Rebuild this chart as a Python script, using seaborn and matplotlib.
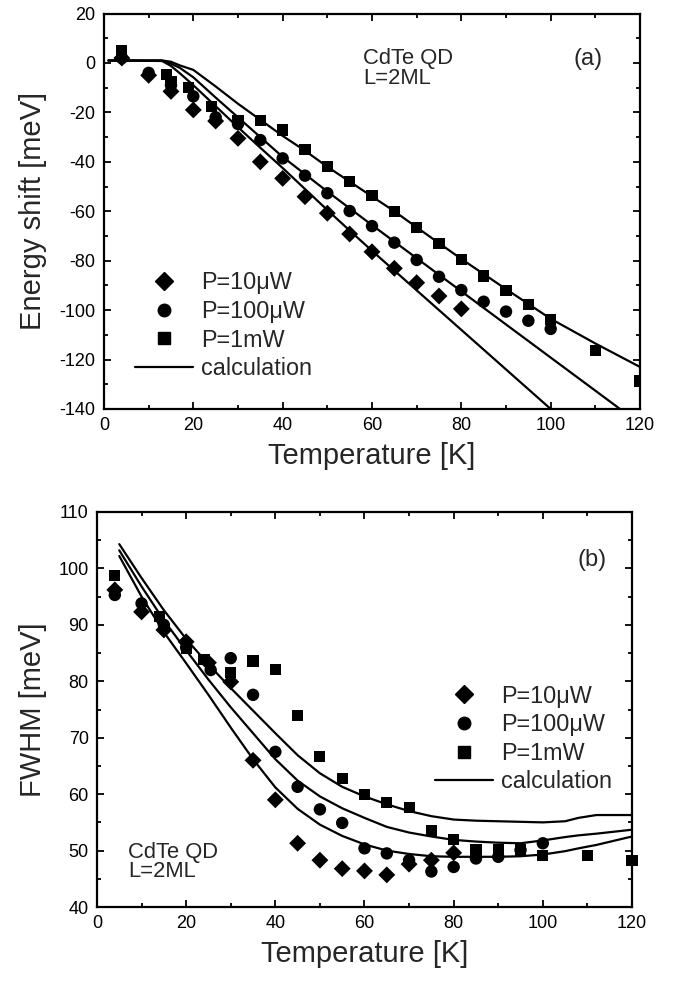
import numpy as np
import pandas as pd
import matplotlib
matplotlib.use("Agg")
import matplotlib.pyplot as plt
import seaborn as sns
from matplotlib.lines import Line2D
from matplotlib.ticker import MultipleLocator

# ---------------- Panel (a): energy shift ----------------
T_a_10uW = [4, 10, 15, 20, 25, 30, 35, 40, 45, 50, 55, 60, 65, 70, 75, 80]
E_a_10uW = [2, -5, -11.5, -19, -23.5, -30.5, -40, -46.7, -54.1, -60.8, -69.2, -76.4,
            -83.1, -88.9, -94.3, -99.5]
T_a_100uW = [4, 10, 15, 20, 25, 30, 35, 40, 45, 50, 55, 60, 65, 70, 75, 80, 85, 90, 95, 100]
E_a_100uW = [2, -4, -9, -13.5, -22, -24.7, -31.2, -38.6, -45.6, -52.7, -59.9, -66, -72.7,
             -79.7, -86.5, -91.9, -96.6, -100.6, -104.3, -107.6]
T_a_1mW = [4, 14, 15, 19, 24, 30, 35, 40, 45, 50, 55, 60, 65, 70, 75, 80, 85, 90, 95, 100, 110, 120]
E_a_1mW = [5, -4.5, -7.5, -10, -17.7, -23.1, -23.4, -27.1, -35, -42, -48, -53.8, -60.2, -66.6,
           -73, -79.4, -86.2, -92.1, -97.6, -103.7, -116.5, -128.7]

T_calc_a = [1, 13, 15, 17, 20, 25, 30, 35, 40, 45, 50, 55, 60, 65, 70, 80, 90, 100, 110, 120]
calc_a_10uW = [1, 0.8, -1.2, -4.2, -9, -17.5, -26, -34.3, -42.5, -51, -59.5, -67.8, -76, -84,
               -92, -108, -124, -140, -156, -172]
calc_a_100uW = [1, 1, -0.3, -2, -5.8, -14, -22, -30, -38, -45, -52, -58.8, -65.6, -72.3, -79,
                -92.4, -105.8, -119.2, -132.6, -146]
calc_a_1mW = [1, 1, 0.5, -1, -2.8, -9.5, -16.5, -23, -29.5, -35.5, -42, -48, -54, -60, -66.5,
              -79.3, -91.5, -103.5, -113.5, -123]

# ---------------- Panel (b): FWHM ----------------
T_b_10uW = [4, 10, 15, 20, 25, 30, 35, 40, 45, 50, 55, 60, 65, 70, 75, 80]
F_b_10uW = [96.2, 92.3, 89.1, 87, 83.3, 79.9, 66.0, 59.0, 51.3, 48.3, 46.8, 46.4, 45.7, 47.6,
            48.3, 49.6]
T_b_100uW = [4, 10, 15, 20, 25.5, 30, 35, 40, 45, 50, 55, 60, 65, 70, 75, 80, 85, 90, 95, 100]
F_b_100uW = [95.3, 93.8, 90, 86, 82, 84.1, 77.6, 67.5, 61.3, 57.3, 54.9, 50.4, 49.5, 48.3,
             46.3, 47.1, 48.6, 48.9, 50.1, 51.3]
T_b_1mW = [4, 14, 20, 24, 30, 35, 40, 45, 50, 55, 60, 65, 70, 75, 80, 85, 90, 95, 100, 110, 120]
F_b_1mW = [98.7, 91.5, 85.8, 83.8, 81.5, 83.6, 82.1, 73.9, 66.7, 62.7, 60, 58.6, 57.7, 53.5,
           52, 50.1, 50.1, 50.1, 49.2, 49.2, 48.2]

T_calc_b = [5, 10, 15, 20, 25, 30, 35, 40, 45, 50, 55, 60, 65, 70, 75, 80, 85, 90, 95, 100,
            105, 108, 112, 120]
calc_b_1mW = [104.3, 98.3, 92.6, 87.5, 83.0, 78.8, 74.8, 70.8, 66.9, 63.7, 61.3, 59.6, 58.2,
              57.0, 56.1, 55.5, 55.3, 55.2, 55.1, 55.0, 55.2, 55.8, 56.3, 56.3]
calc_b_100uW = [103.2, 96.8, 90.8, 85.5, 80.3, 75.4, 70.8, 66.2, 62.4, 59.6, 57.5, 55.8, 54.2,
                53.2, 52.5, 51.9, 51.6, 51.4, 51.3, 51.8, 52.4, 52.7, 53.0, 53.7]
calc_b_10uW = [102.2, 95.0, 88.7, 83.2, 77.6, 71.8, 66.2, 61.2, 57.4, 54.6, 52.6, 51.1, 50.0,
               49.4, 49.0, 48.9, 48.9, 48.9, 49.0, 49.3, 49.9, 50.4, 51.0, 52.5]

labels = ["P=10\u03bcW", "P=100\u03bcW", "P=1mW", "calculation"]
sample_text = "CdTe QD\nL=2ML"

sns.set_theme(style="ticks")
plt.rcParams["font.family"] = ["Liberation Sans", "DejaVu Sans"]
plt.rcParams["axes.unicode_minus"] = False

fig = plt.figure(figsize=(6.73, 9.81), dpi=100)
ax1 = fig.add_axes([0.1545, 0.5831, 0.7965, 0.4031])
ax2 = fig.add_axes([0.1441, 0.0754, 0.7950, 0.4027])

MS = {"D": 74, "o": 80, "s": 64}


def draw_points(ax, T, Y, marker, clip=True):
    df = pd.DataFrame({"T": T, "Y": Y})
    sns.scatterplot(data=df, x="T", y="Y", ax=ax, marker=marker, s=MS[marker],
                    color="black", edgecolor="none", linewidth=0, clip_on=clip, zorder=3)


def draw_calc(ax, T, curves):
    rows = []
    for i, c in enumerate(curves):
        for t, v in zip(T, c):
            rows.append({"T": t, "Y": v, "curve": i})
    df = pd.DataFrame(rows)
    sns.lineplot(data=df, x="T", y="Y", units="curve", estimator=None, ax=ax,
                 color="black", linewidth=1.6, sort=False, zorder=2)


# panel a
draw_calc(ax1, T_calc_a, [calc_a_10uW, calc_a_100uW, calc_a_1mW])
draw_points(ax1, T_a_10uW, E_a_10uW, "D")
draw_points(ax1, T_a_100uW, E_a_100uW, "o")
draw_points(ax1, T_a_1mW, E_a_1mW, "s")

# panel b
draw_calc(ax2, T_calc_b, [calc_b_1mW, calc_b_100uW, calc_b_10uW])
draw_points(ax2, T_b_10uW, F_b_10uW, "D", clip=False)
draw_points(ax2, T_b_100uW, F_b_100uW, "o", clip=False)
draw_points(ax2, T_b_1mW, F_b_1mW, "s", clip=False)

ax1.set_xlim(0, 120)
ax1.set_ylim(-140, 20)
ax2.set_xlim(0, 120)
ax2.set_ylim(40, 110)

for ax in (ax1, ax2):
    ax.xaxis.set_major_locator(MultipleLocator(20))
    ax.xaxis.set_minor_locator(MultipleLocator(10))
    ax.tick_params(which="both", direction="in", top=True, right=True,
                   labelsize=13, width=1.3, colors="black")
    ax.tick_params(which="major", length=5, pad=6)
    ax.tick_params(which="minor", length=3)
    for sp in ax.spines.values():
        sp.set_linewidth(1.6)
        sp.set_color("black")
        sp.set_visible(True)
    ax.set_xlabel("Temperature [K]", fontsize=21)

ax1.yaxis.set_major_locator(MultipleLocator(20))
ax1.yaxis.set_minor_locator(MultipleLocator(10))
ax2.yaxis.set_major_locator(MultipleLocator(10))
ax2.yaxis.set_minor_locator(MultipleLocator(5))

ax1.set_ylabel("Energy shift [meV]", fontsize=21)
ax2.set_ylabel("FWHM [meV]", fontsize=21)
ax1.yaxis.set_label_coords(-0.106, 0.5)
ax2.yaxis.set_label_coords(-0.094, 0.5)
ax1.xaxis.set_label_coords(0.5, -0.083)
ax2.xaxis.set_label_coords(0.5, -0.084)

# annotations (multiline text: baseline alignment refers to the last line)
ax1.text(0.483, 0.823, sample_text, transform=ax1.transAxes, fontsize=15.8,
         va="baseline", linespacing=0.88)
ax1.text(0.875, 0.870, "(a)", transform=ax1.transAxes, fontsize=17, va="baseline")
ax2.text(0.058, 0.0767, sample_text, transform=ax2.transAxes, fontsize=15.8,
         va="baseline", linespacing=0.88)
ax2.text(0.899, 0.863, "(b)", transform=ax2.transAxes, fontsize=17, va="baseline")

handles = [
    Line2D([], [], marker="D", ls="none", color="black", markersize=8.8),
    Line2D([], [], marker="o", ls="none", color="black", markersize=9.0),
    Line2D([], [], marker="s", ls="none", color="black", markersize=8.0),
    Line2D([], [], color="black", lw=1.6),
]
for ax, anchor in ((ax1, (0.058, 0.348)), (ax2, (0.632, 0.563))):
    ax.legend(handles, labels, loc="upper left", bbox_to_anchor=anchor, frameon=False,
              fontsize=16.8, handlelength=2.5, handletextpad=0.33, borderpad=0,
              borderaxespad=0, labelspacing=0.24)

fig.savefig("out.png", dpi=100)
